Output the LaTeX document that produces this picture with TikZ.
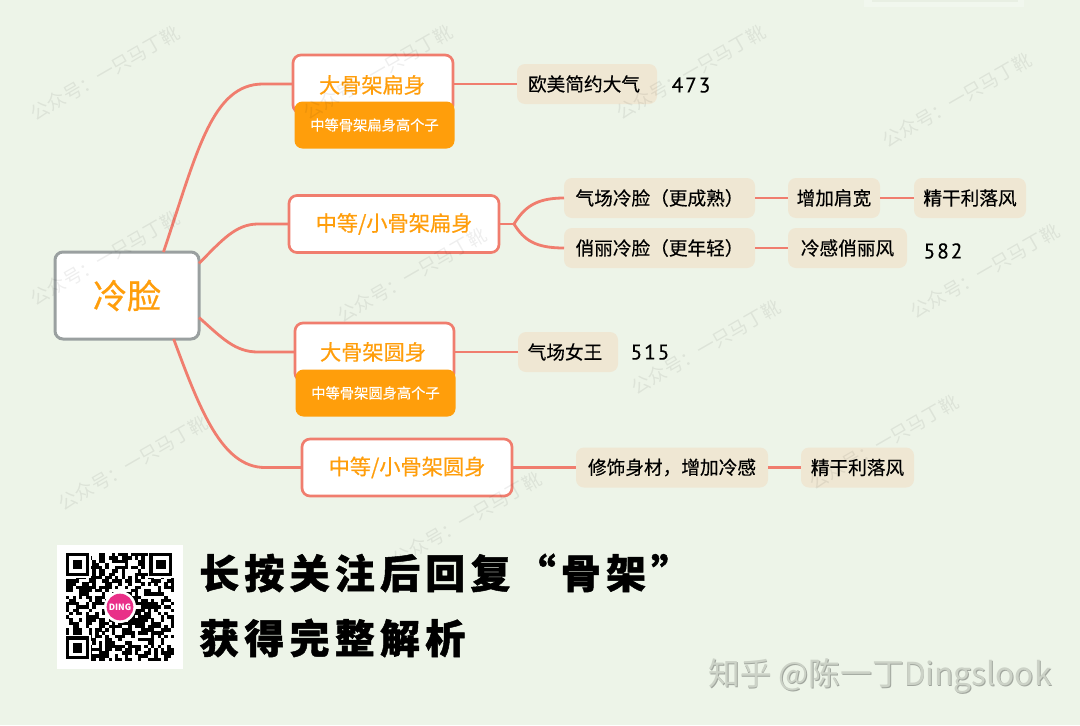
\documentclass[tikz,border=0pt]{standalone}
\usepackage{fontspec}
\setmainfont{Noto Sans CJK SC}
\newfontfamily\numfont[LetterSpace=9,FakeBold=0.15]{PT Sans}
\newfontfamily\handfont[FakeBold=0.55]{Noto Sans CJK SC}
\newfontfamily\leaffont[FakeBold=0.35]{Noto Sans CJK SC}
\newfontfamily\titlefont[LetterSpace=13,BoldFeatures={FakeBold=1.2}]{Noto Sans CJK SC}
\definecolor{bgc}{HTML}{EDF4E8}
\definecolor{coral}{HTML}{F07D6E}
\definecolor{orangec}{HTML}{FF9E0B}
\definecolor{leafc}{HTML}{EFE7D3}
\definecolor{greyb}{HTML}{9AA0A0}
\tikzset{
  x=0.75pt,y=-0.75pt,
  sized/.style 2 args={minimum width=0.75pt*#1,minimum height=0.75pt*#2,inner sep=0pt,outer sep=0pt},
  rootbox/.style={draw=greyb,line width=2.25pt,fill=white,rounded corners=6pt,text=orangec,font=\handfont\fontsize{25.5}{30}\selectfont},
  mainbox/.style={draw=coral,line width=2pt,fill=white,rounded corners=6pt,text=orangec,font=\handfont\fontsize{15.9}{20}\selectfont},
  maintext/.style={text=orangec,inner sep=0pt,font=\handfont\fontsize{15.9}{20}\selectfont},
  subbox/.style={fill=orangec,rounded corners=6pt,text=white,font=\leaffont\fontsize{10.7}{14}\selectfont},
  leaf/.style={fill=leafc,rounded corners=6pt,text=black,font=\leaffont\fontsize{14}{18}\selectfont},
  numlabel/.style={text=black,font=\numfont\fontsize{16}{18}\selectfont,inner sep=0pt},
  conn/.style={draw=coral,line width=2.1pt},
  wmark/.style={text=black,text opacity=0.065,rotate=30,inner sep=0pt,font=\fontsize{14}{18}\selectfont},
  headline/.style={text=black,anchor=west,inner sep=0pt,font=\titlefont\bfseries\fontsize{30}{34}\selectfont},
}
\begin{document}
\begin{tikzpicture}
\useasboundingbox (0,0) rectangle (1080,725);
\fill[bgc] (0,0) rectangle (1080,725);
\fill[white!25!bgc] (864,0) rectangle (1024,7);
\fill[black!2!bgc] (872,0) rectangle (1018,1.5);
% central node
\node[rootbox,sized={144}{87}] (root) at (127,295.5) {冷脸};
% first level
\node[mainbox,sized={160}{58}] (ma) at (373,84) {};
\node[maintext] (mat) at (372,85) {大骨架扁身};
\node[subbox,sized={160}{47}] (sa) at (374.5,125) {中等骨架扁身高个子};
\node[mainbox,sized={210}{57}] (mb) at (394,224) {中等/小骨架扁身};
\node[mainbox,sized={159}{58}] (mc) at (374.5,352) {};
\node[maintext] (mct) at (373,352) {大骨架圆身};
\node[subbox,sized={160}{47}] (sc) at (375.5,393) {中等骨架圆身高个子};
\node[mainbox,sized={210}{57}] (md) at (407,467.5) {中等/小骨架圆身};
% leaves
\node[leaf,sized={140}{40}] (l1) at (587,84) {欧美简约大气\kern 4.5pt};
\node[leaf,sized={191}{40}] (l2) at (659.5,198) {气场冷脸（更成熟）};
\node[leaf,sized={92}{40}] (l3) at (834,198) {增加肩宽};
\node[leaf,sized={112}{40}] (l4) at (970,198) {精干利落风};
\node[leaf,sized={191}{40}] (l5) at (659.5,248) {俏丽冷脸（更年轻）};
\node[leaf,sized={119}{40}] (l6) at (847.5,248) {冷感俏丽风};
\node[leaf,sized={100}{40}] (l7) at (568,352) {气场女王\kern 4.5pt};
\node[leaf,sized={192}{40}] (l8) at (672,467.5) {修饰身材，增加冷感};
\node[leaf,sized={113}{40}] (l9) at (857.5,467.5) {精干利落风};
\node[numlabel] (n1) at (691,85) {473};
\node[numlabel] (n2) at (943,251) {582};
\node[numlabel] (n3) at (650,352) {515};
% connectors
\coordinate (fork) at (514,224);
\draw[conn] (root.50.4) .. controls (197,152) and (212,84) .. (263,84) -- (ma.west);
\draw[conn] (root.24) .. controls (222,240) and (236,224) .. (258,224) -- (mb.west);
\draw[conn] (root.-17.4) .. controls (222,338) and (235,352) .. (258,352) -- (mc.west);
\draw[conn] (root.-43.4) .. controls (200,410) and (222,467.5) .. (265,467.5) -- (md.west);
\draw[conn] (ma.east) -- (l1.west);
\draw[conn] (mb.east) -- (fork);
\draw[conn] (fork) .. controls (524,208) and (535,198) .. (l2.west);
\draw[conn] (fork) .. controls (524,240) and (535,248) .. (l5.west);
\draw[conn] (l2.east) -- (l3.west);
\draw[conn] (l3.east) -- (l4.west);
\draw[conn] (l5.east) -- (l6.west);
\draw[conn] (mc.east) -- (l7.west);
\draw[conn] (md.east) -- (l8.west);
\draw[conn] (l8.east) -- (l9.west);
% watermarks, lying over the map
\foreach \wx/\wy/\wn in {105/73/a,378/72/b,691/72/c,957/100/d,105/258/e,412/275/f,985/271/g,706/347/h,133/463/i,467/519/j,884/442/k}{
  \node[wmark] (wm\wn) at (\wx,\wy) {公众号：一只马丁靴};
}
% QR block
\fill[white] (57,545) rectangle (183,669);
\pgfmathsetseed{11}
\foreach \i in {0,...,32}{\foreach \j in {0,...,32}{
  \pgfmathrandominteger{\rr}{0}{99}
  \ifnum\rr<52
    \fill[black] ({66+\i*3.27},{553+\j*3.27}) rectangle ++(3.4,3.4);
  \fi
}}
\foreach \fx/\fy in {66/553,149.4/553,66/636.4}{
  \fill[white] (\fx-1,\fy-1) rectangle ++(26.2,26.2);
  \fill[black] (\fx,\fy) rectangle ++(22.9,22.9);
  \fill[white] (\fx+3.27,\fy+3.27) rectangle ++(16.4,16.4);
  \fill[black] (\fx+6.54,\fy+6.54) rectangle ++(9.8,9.8);
}
\fill[white] (120,607) circle[radius=16];
\node[circle,fill={rgb,255:red,233;green,48;blue,136},minimum size=20pt,inner sep=0pt,text=white,font=\bfseries\fontsize{6.5}{7}\selectfont] (logo) at (120,607) {DING};
% bottom text
\node[headline] (h1) at (199,573) {长按关注后回复“骨架”};
\node[headline] (h2) at (199,638) {获得完整解析};
% credit
\node[anchor=west,inner sep=0pt,text=black!32!bgc,font=\fontsize{23.8}{28}\selectfont] (zs) at (708.8,677) {知乎 @陈一丁Dingslook};
\node[anchor=west,inner sep=0pt,text=black!14!bgc,font=\fontsize{23.8}{28}\selectfont] (z) at (708,676) {知乎 @陈一丁Dingslook};
\end{tikzpicture}
\end{document}
